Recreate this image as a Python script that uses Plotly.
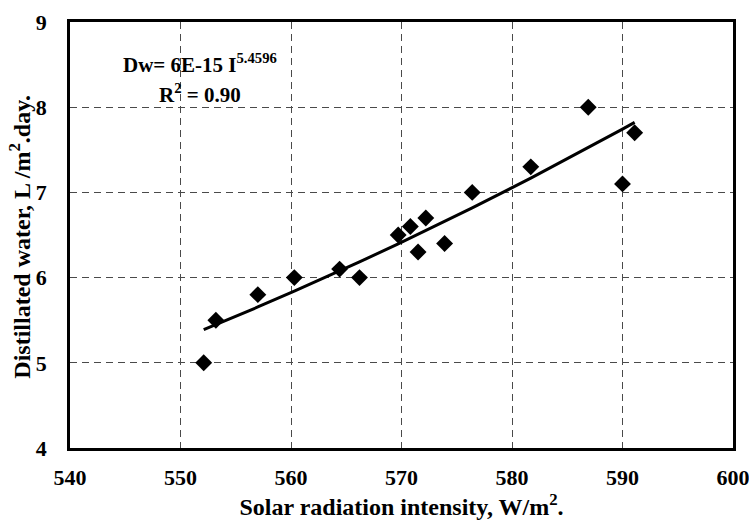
import numpy as np
import plotly.graph_objects as go

# Data
solar = [552.1, 553.2, 557.0, 560.3, 564.4, 566.2, 569.7, 570.8, 571.5, 572.2,
         573.9, 576.4, 581.7, 586.9, 590.0, 591.1]
water = [5.0, 5.5, 5.8, 6.0, 6.1, 6.0, 6.5, 6.6, 6.3, 6.7,
         6.4, 7.0, 7.3, 8.0, 7.1, 7.7]

x_ticks = [540, 550, 560, 570, 580, 590, 600]
y_ticks = [4, 5, 6, 7, 8, 9]

# Power trendline  Dw = a * I^b  (as labelled on the chart)
TREND_A = 5.77e-15
TREND_B = 5.4596
trend_x = sorted(solar)
trend_y = [TREND_A * v ** TREND_B for v in trend_x]

FONT = "Liberation Serif"

fig = go.Figure()
fig.add_trace(go.Scatter(x=trend_x, y=trend_y, mode="lines",
                         line=dict(color="black", width=3), showlegend=False,
                         hoverinfo="skip"))
fig.add_trace(go.Scatter(x=solar, y=water, mode="markers",
                         marker=dict(symbol="diamond", size=13, color="black"),
                         showlegend=False))

axis_common = dict(
    showline=True, linecolor="black", linewidth=2.5, mirror=True,
    showgrid=True, gridcolor="#4a4a4a", gridwidth=1, griddash="7px,5px",
    zeroline=False, ticks="", ticklabeloverflow="allow",
    tickfont=dict(family=FONT, size=22, color="black", weight="bold"),
)

title_font = dict(family=FONT, size=24, color="black", weight="bold")

fig.update_xaxes(range=[540, 600], tickvals=x_ticks,
                 ticktext=[f"<b>{v}</b>" for v in x_ticks], ticklabelstandoff=8,
                 title=dict(text="<b>Solar radiation intensity, W/m<sup>2</sup>.</b>",
                            font=title_font, standoff=10),
                 **axis_common)
fig.update_yaxes(range=[4, 9], tickvals=y_ticks,
                 ticktext=[f"<b>{v}</b>" for v in y_ticks], ticklabelstandoff=16,
                 **axis_common)

fig.add_annotation(xref="paper", yref="paper", x=-0.0755, y=0.496,
                   text="<b>Distillated water, L /m<sup>2</sup>.day.</b>",
                   textangle=-90, showarrow=False,
                   xanchor="center", yanchor="middle", font=title_font)

ann_font = dict(family=FONT, size=21, color="black", weight="bold")
fig.add_annotation(xref="paper", yref="paper", x=0.196, y=0.902,
                   text="<b>Dw= 6E-15 I<sup>5.4596</sup></b>", showarrow=False,
                   xanchor="center", yanchor="middle", font=ann_font)
fig.add_annotation(xref="paper", yref="paper", x=0.196, y=0.831,
                   text="<b>R<sup>2</sup> = 0.90</b>", showarrow=False,
                   xanchor="center", yanchor="middle", font=ann_font)

fig.update_layout(
    width=749, height=529,
    margin=dict(l=70, r=16, t=22, b=81, autoexpand=False),
    plot_bgcolor="white", paper_bgcolor="white",
)

fig.write_html("out.html")
